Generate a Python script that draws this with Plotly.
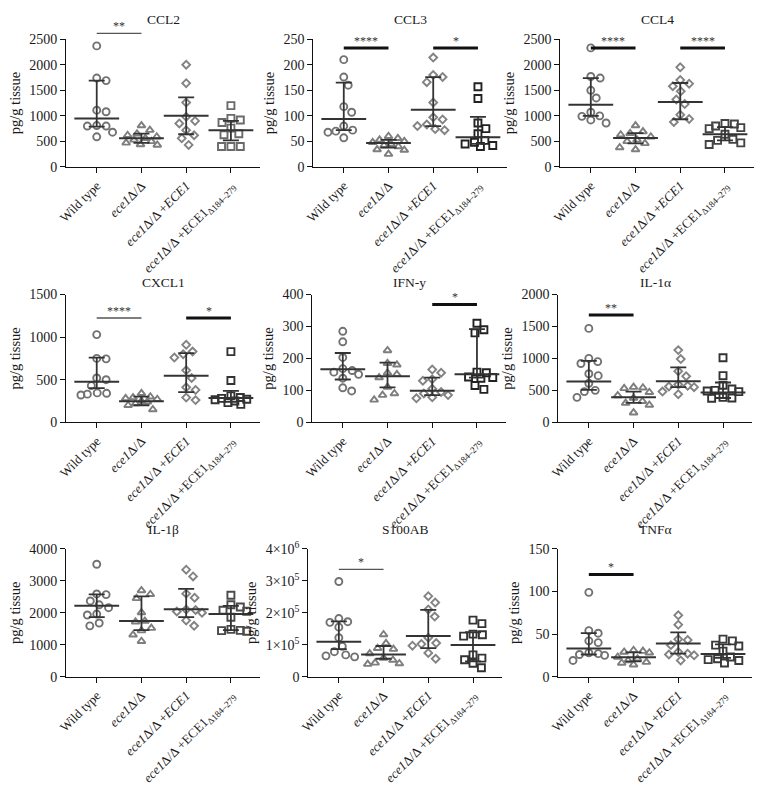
import plotly.graph_objects as go

FONT = "Liberation Serif, Times New Roman, Times, serif"

# ---------------- data ----------------
group_labels = ["Wild type",
                "<i>ece1</i>Δ/Δ",
                "<i>ece1</i>Δ/Δ +<i>ECE1</i>",
                "<i>ece1</i>Δ/Δ +ECE1<sub>Δ184–279</sub>"]
analytes = ["CCL2", "CCL3", "CCL4", "CXCL1", "IFN-y", "IL-1α", "IL-1β", "S100AB", "TNFα"]

ccl2_wt = [2370, 1740, 1690, 1110, 1080, 810, 800, 800, 680, 590]
ccl2_ko = [810, 720, 650, 620, 590, 560, 530, 500, 470, 440, 430]
ccl2_re = [2000, 1640, 1260, 980, 900, 850, 720, 620, 560, 430]
ccl2_tr = [1200, 950, 920, 870, 760, 650, 630, 400, 400, 400]
ccl2_med = [950, 560, 1000, 720]
ccl2_q1 = [790, 470, 640, 520]
ccl2_q3 = [1690, 650, 1360, 900]

ccl3_wt = [210, 176, 160, 118, 107, 80, 72, 70, 68, 57]
ccl3_ko = [60, 56, 53, 50, 48, 45, 42, 40, 34, 33, 25]
ccl3_re = [214, 180, 176, 166, 126, 97, 93, 83, 80, 74, 72]
ccl3_tr = [157, 134, 86, 75, 65, 52, 48, 45, 42, 40]
ccl3_med = [94, 47, 112, 58]
ccl3_q1 = [72, 38, 80, 45]
ccl3_q3 = [165, 53, 176, 98]

ccl4_wt = [2330, 1770, 1740, 1500, 1350, 1070, 1000, 990, 920, 860]
ccl4_ko = [810, 690, 660, 630, 590, 530, 500, 460, 380, 340]
ccl4_re = [1950, 1700, 1630, 1580, 1480, 1320, 1230, 1020, 940, 880]
ccl4_tr = [850, 840, 800, 770, 750, 640, 540, 520, 470, 440]
ccl4_med = [1218, 565, 1269, 640]
ccl4_q1 = [1000, 460, 933, 520]
ccl4_q3 = [1740, 660, 1643, 780]

cxcl1_wt = [1030, 750, 745, 520, 500, 430, 345, 340, 330, 320]
cxcl1_ko = [340, 300, 290, 280, 270, 250, 240, 220, 200, 150]
cxcl1_re = [910, 830, 800, 760, 610, 520, 410, 380, 290, 260]
cxcl1_tr = [830, 490, 310, 290, 280, 270, 265, 250, 230, 210]
cxcl1_med = [475, 247, 547, 285]
cxcl1_q1 = [400, 200, 353, 240]
cxcl1_q3 = [760, 300, 812, 368]

ifn_wt = [285, 252, 203, 168, 162, 157, 150, 138, 108, 98]
ifn_ko = [225, 185, 180, 155, 150, 140, 110, 90, 85, 70]
ifn_re = [165, 155, 135, 130, 105, 95, 90, 85, 78, 75]
ifn_tr = [310, 290, 280, 157, 155, 142, 140, 138, 115, 103]
ifn_med = [166, 144, 99, 150]
ifn_q1 = [134, 109, 85, 140]
ifn_q3 = [217, 187, 140, 292]

il1a_wt = [1470, 1000, 950, 920, 760, 730, 610, 500, 480, 390]
il1a_ko = [550, 540, 530, 470, 420, 380, 330, 300, 270, 150]
il1a_re = [1130, 990, 800, 720, 590, 570, 560, 550, 480, 440]
il1a_tr = [1010, 730, 580, 520, 500, 490, 480, 390, 380, 375]
il1a_med = [638, 390, 643, 466]
il1a_q1 = [506, 304, 550, 380]
il1a_q3 = [962, 481, 861, 623]

il1b_wt = [3520, 2590, 2570, 2370, 2250, 2160, 1960, 1930, 1680, 1590]
il1b_ko = [2700, 2580, 2450, 2010, 1740, 1720, 1520, 1440, 1310, 1110]
il1b_re = [3350, 3140, 2600, 2470, 2100, 2090, 2040, 2000, 1760, 1590]
il1b_tr = [2550, 2250, 2180, 2080, 2050, 1860, 1480, 1450, 1440, 1420]
il1b_med = [2219, 1741, 2107, 1965]
il1b_q1 = [1863, 1456, 1863, 1456]
il1b_q3 = [2576, 2515, 2749, 2219]

s100_wt = [298000, 182000, 172000, 170000, 155000, 122000, 95000, 78000, 68000, 65000, 62000]
s100_ko = [132000, 104000, 89000, 86000, 72000, 58000, 52000, 43000, 41000, 39000]
s100_re = [252000, 232000, 210000, 188000, 122000, 105000, 102000, 97000, 74000, 56000]
s100_tr = [177000, 166000, 133000, 131000, 127000, 68000, 58000, 53000, 42000, 28000]
s100_med = [109000, 69000, 127000, 99000]
s100_q1 = [86000, 56000, 89000, 48000]
s100_q3 = [173000, 96000, 209000, 139000]

tnf_wt = [99, 54, 51, 42, 40, 28, 27, 26, 25, 19]
tnf_ko = [31, 30, 29, 28, 23, 21, 19, 17, 16, 14]
tnf_re = [72, 61, 44, 43, 37, 29, 27, 26, 25, 19]
tnf_tr = [44, 42, 37, 36, 30, 23, 21, 20, 19, 16]
tnf_med = [33, 22.8, 39, 26.6]
tnf_q1 = [26, 18, 27, 22]
tnf_q3 = [51, 28.5, 52, 38]

ccl2_ticks = [0, 500, 1000, 1500, 2000, 2500]
ccl3_ticks = [0, 50, 100, 150, 200, 250]
ccl4_ticks = [0, 500, 1000, 1500, 2000, 2500]
cxcl1_ticks = [0, 500, 1000, 1500]
ifn_ticks = [0, 100, 200, 300, 400]
il1a_ticks = [0, 500, 1000, 1500, 2000]
il1b_ticks = [0, 1000, 2000, 3000, 4000]
s100_ticks = [0, 100000, 200000, 300000, 400000]
s100_ticktext = ["0", "1×10<sup>5</sup>", "2×10<sup>5</sup>", "3×10<sup>5</sup>", "4×10<sup>6</sup>"]
tnf_ticks = [0, 50, 100, 150]

# significance: (group a, group b, height, label, bold bar)
ccl2_sig = [(0, 1, 2615, "**", False)]
ccl3_sig = [(0, 1, 233, "****", True), (2, 3, 233, "*", True)]
ccl4_sig = [(0, 1, 2328, "****", True), (2, 3, 2328, "****", True)]
cxcl1_sig = [(0, 1, 1225, "****", False), (2, 3, 1225, "*", True)]
ifn_sig = [(2, 3, 369, "*", True)]
il1a_sig = [(0, 1, 1680, "**", True)]
il1b_sig = []
s100_sig = [(0, 1, 336000, "*", False)]
tnf_sig = [(0, 1, 120, "*", True)]

panels = [
    ([ccl2_wt, ccl2_ko, ccl2_re, ccl2_tr], ccl2_med, ccl2_q1, ccl2_q3, ccl2_ticks, None, ccl2_sig),
    ([ccl3_wt, ccl3_ko, ccl3_re, ccl3_tr], ccl3_med, ccl3_q1, ccl3_q3, ccl3_ticks, None, ccl3_sig),
    ([ccl4_wt, ccl4_ko, ccl4_re, ccl4_tr], ccl4_med, ccl4_q1, ccl4_q3, ccl4_ticks, None, ccl4_sig),
    ([cxcl1_wt, cxcl1_ko, cxcl1_re, cxcl1_tr], cxcl1_med, cxcl1_q1, cxcl1_q3, cxcl1_ticks, None, cxcl1_sig),
    ([ifn_wt, ifn_ko, ifn_re, ifn_tr], ifn_med, ifn_q1, ifn_q3, ifn_ticks, None, ifn_sig),
    ([il1a_wt, il1a_ko, il1a_re, il1a_tr], il1a_med, il1a_q1, il1a_q3, il1a_ticks, None, il1a_sig),
    ([il1b_wt, il1b_ko, il1b_re, il1b_tr], il1b_med, il1b_q1, il1b_q3, il1b_ticks, None, il1b_sig),
    ([s100_wt, s100_ko, s100_re, s100_tr], s100_med, s100_q1, s100_q3, s100_ticks, s100_ticktext, s100_sig),
    ([tnf_wt, tnf_ko, tnf_re, tnf_tr], tnf_med, tnf_q1, tnf_q3, tnf_ticks, None, tnf_sig),
]

# ---------------- styling / layout ----------------
W, H = 759, 787
axis_left_px = [[58, 308, 558], [58, 307, 556], [58, 303, 556]]
axis_bottom_px = [161, 423, 684]
title_px = [10, 280, 533]
PLOT_W, PLOT_H = 196, 131
XMIN, XMAX = -0.68, 3.65
PX_PER_CAT = PLOT_W / (XMAX - XMIN)

symbols = ["circle-open", "triangle-up-open", "diamond-open", "square-open"]
sizes = [7, 7, 6, 7]
group_colors = ["#727272", "#7e7e7e", "#838383", None]
square_colors = ["#6a6a6a", "#222222", "#444444", "#333333", "#222222", "#333333", "#4a4a4a", "#333333", "#3a3a3a"]
line_color = "#333333"
DIAM = 9.5
MAX_SPREAD = 16.0


def swarm(vals, top):
    ppu = PLOT_H / top
    ys = [v * ppu for v in vals]
    order = sorted(range(len(vals)), key=lambda i: -ys[i])
    placed = []
    offs = [0.0] * len(vals)
    cands = [0.0]
    k = 1
    while k * 0.5 <= MAX_SPREAD:
        cands += [k * 0.5, -k * 0.5]
        k += 1
    for i in order:
        best, best_d = 0.0, -1.0
        for cnd in cands:
            d = min([((cnd - px) ** 2 + (ys[i] - py) ** 2) ** 0.5 for px, py in placed] or [99.0])
            if d >= DIAM:
                best = cnd
                break
            if d > best_d + 0.3:
                best, best_d = cnd, d
        placed.append((best, ys[i]))
        offs[i] = best / PX_PER_CAT
    return offs


fig = go.Figure()
layout = dict(width=W, height=H, margin=dict(l=0, r=0, t=0, b=0),
              paper_bgcolor="white", plot_bgcolor="white", showlegend=False,
              font=dict(family=FONT, size=13, color="#1a1a1a"))
shapes = []
annotations = []

for p, (groups, med, q1, q3, ticks, ticktext, sigs) in enumerate(panels):
    r, c = divmod(p, 3)
    n = p + 1
    xs = "" if n == 1 else str(n)
    xname, yname = "x" + xs, "y" + xs
    left = axis_left_px[r][c]
    bottom = axis_bottom_px[r]
    xdom = [left / W, (left + PLOT_W) / W]
    ydom = [1 - bottom / H, 1 - (bottom - PLOT_H) / H]
    top = ticks[-1]

    for g, vals in enumerate(groups):
        offs = swarm(vals, top)
        col = group_colors[g] if group_colors[g] else square_colors[p]
        fig.add_trace(go.Scatter(
            x=[g + o for o in offs], y=vals, mode="markers", xaxis=xname, yaxis=yname,
            marker=dict(symbol=symbols[g], size=sizes[g], color=col, line=dict(width=1.9, color=col)),
            hoverinfo="y"))

    fig.add_trace(go.Scatter(
        x=list(range(4)), y=med, mode="markers", xaxis=xname, yaxis=yname,
        marker=dict(symbol="line-ew", size=32, color=line_color, line=dict(width=2, color=line_color)),
        error_y=dict(type="data", symmetric=False,
                     array=[b - m for b, m in zip(q3, med)],
                     arrayminus=[m - a for m, a in zip(med, q1)],
                     width=8, thickness=1.8, color=line_color),
        hoverinfo="y"))

    layout["xaxis" + xs] = dict(domain=xdom, anchor=yname, range=[XMIN, XMAX],
                                tickvals=list(range(4)), ticktext=group_labels, tickangle=-45,
                                showline=True, linecolor="#111", linewidth=1.3,
                                ticks="outside", ticklen=5, tickwidth=1.3, tickcolor="#111",
                                showgrid=False, zeroline=False,
                                tickfont=dict(family=FONT, size=13, color="#1a1a1a"))
    ydict = dict(domain=ydom, anchor=xname, range=[0, top], tickvals=ticks,
                 showline=True, linecolor="#111", linewidth=1.3,
                 ticks="outside", ticklen=5, tickwidth=1.3, tickcolor="#111",
                 showgrid=False, zeroline=False,
                 tickfont=dict(family=FONT, size=14, color="#1a1a1a"),
                 title=dict(text="pg/g tissue", font=dict(family=FONT, size=14.5), standoff=5))
    if ticktext:
        ydict["ticktext"] = ticktext
    layout["yaxis" + xs] = ydict

    annotations.append(dict(text=analytes[p], xref="paper", yref="paper",
                            x=(xdom[0] + xdom[1]) / 2, y=1 - title_px[r] / H,
                            xanchor="center", yanchor="middle", showarrow=False,
                            font=dict(family=FONT, size=13.5, color="#1a1a1a")))

    for a, b, h, lab, bold in sigs:
        yp = ydom[0] + h / top * (ydom[1] - ydom[0])
        shapes.append(dict(type="line", xref=xname, yref="paper", x0=a, x1=b, y0=yp, y1=yp,
                           line=dict(color="#111111" if bold else "#555555", width=3 if bold else 1.3)))
        annotations.append(dict(text=lab, xref=xname, yref="paper", x=(a + b) / 2, y=yp,
                                xanchor="center", yanchor="bottom", yshift=-2, showarrow=False,
                                font=dict(family=FONT, size=12, color="#333333")))

layout["shapes"] = shapes
layout["annotations"] = annotations
fig.update_layout(**layout)
fig.write_html("out.html", config={"displayModeBar": False},
               post_script="document.body.style.margin='0';document.body.style.overflow='hidden';")
